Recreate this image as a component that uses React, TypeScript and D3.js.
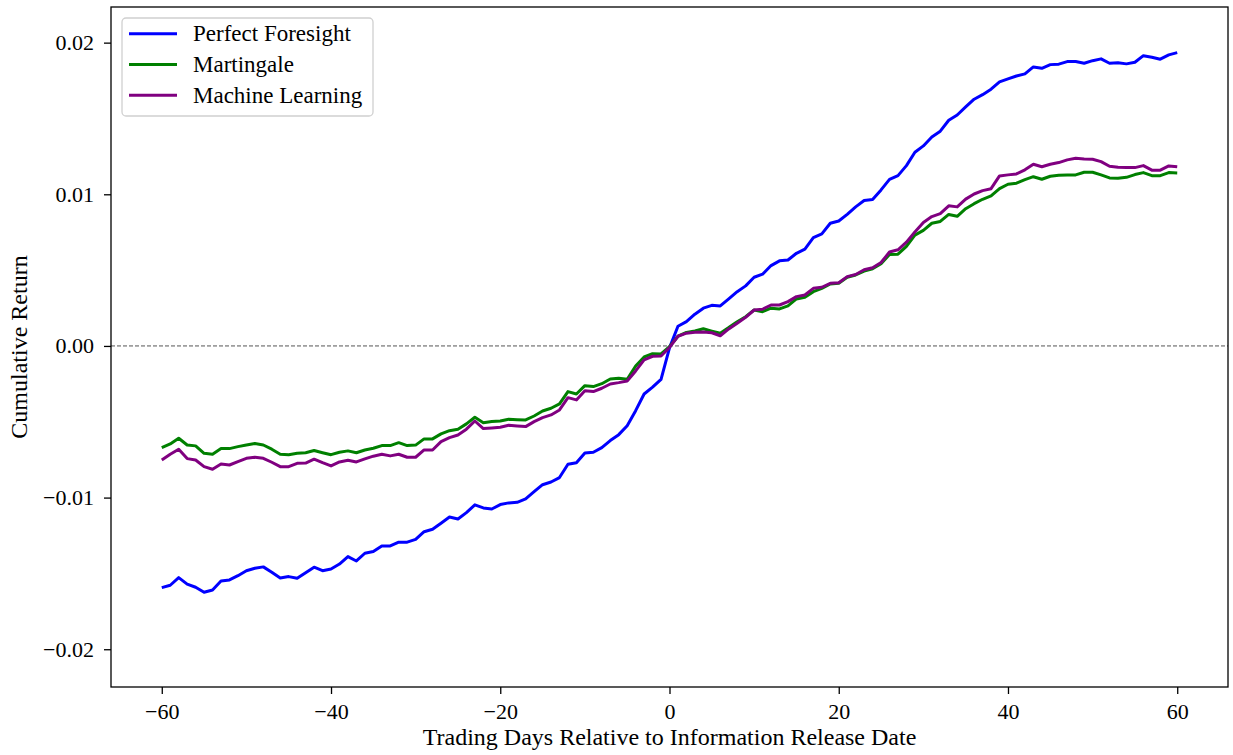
import React, { useRef, useEffect } from 'react';
import * as d3 from 'd3';

// trading days relative to release date
const days = d3.range(-60, 61);

const perfectForesight = [
  -0.01594, -0.01578, -0.01528, -0.01571, -0.01591, -0.01624, -0.01609, -0.0155, -0.01543, -0.01515,
  -0.01482, -0.01466, -0.01457, -0.01492, -0.0153, -0.01521, -0.01532, -0.01495, -0.01459, -0.01482,
  -0.01471, -0.01438, -0.01389, -0.01418, -0.01367, -0.01356, -0.01319, -0.01319, -0.01294, -0.01294,
  -0.01276, -0.01225, -0.01209, -0.01169, -0.01128, -0.01141, -0.01099, -0.01048, -0.01068, -0.01075,
  -0.01046, -0.01035, -0.01031, -0.01009, -0.00961, -0.00915, -0.00897, -0.00868, -0.0078, -0.0077,
  -0.00706, -0.00701, -0.00671, -0.00624, -0.00585, -0.00526, -0.00427, -0.00317, -0.00272, -0.0022,
  -0.00013, 0.0013, 0.0016, 0.00209, 0.00249, 0.00268, 0.00264, 0.0031, 0.00358, 0.00396,
  0.00453, 0.00473, 0.0053, 0.00561, 0.00567, 0.00611, 0.00638, 0.00714, 0.00739, 0.00809,
  0.00824, 0.00868, 0.00917, 0.00959, 0.00966, 0.01029, 0.01098, 0.01123, 0.01189, 0.01277,
  0.01319, 0.01378, 0.01416, 0.01488, 0.01523, 0.01576, 0.01627, 0.01657, 0.01693, 0.01741,
  0.01761, 0.0178, 0.01794, 0.0184, 0.01831, 0.01855, 0.01858, 0.01875, 0.01875, 0.01864,
  0.01881, 0.01893, 0.01864, 0.01868, 0.0186, 0.01871, 0.01914, 0.01904, 0.01891, 0.01919,
  0.01934,
];

const martingale = [
  -0.00671, -0.00646, -0.00609, -0.00653, -0.00659, -0.00708, -0.00714, -0.00677, -0.00677, -0.00664,
  -0.00653, -0.00644, -0.00653, -0.00681, -0.00714, -0.00717, -0.00708, -0.00704, -0.0069, -0.00704,
  -0.00717, -0.00701, -0.00692, -0.00704, -0.00686, -0.00675, -0.00657, -0.00657, -0.00638, -0.00657,
  -0.00654, -0.00613, -0.00613, -0.0058, -0.00559, -0.00549, -0.00514, -0.0047, -0.00506, -0.00499,
  -0.00495, -0.00483, -0.00486, -0.00488, -0.00462, -0.00429, -0.00411, -0.00382, -0.00301, -0.00317,
  -0.00262, -0.00268, -0.00249, -0.00218, -0.00213, -0.0022, -0.00132, -0.00073, -0.00051, -0.00053,
  -0.00005, 0.00064, 0.00089, 0.00099, 0.00113, 0.00098, 0.00084, 0.00121, 0.0016, 0.00193,
  0.00237, 0.00226, 0.00249, 0.00244, 0.00264, 0.0031, 0.00321, 0.00358, 0.0038, 0.00409,
  0.00413, 0.00453, 0.00468, 0.00493, 0.00509, 0.00542, 0.00603, 0.00605, 0.00657, 0.00731,
  0.00762, 0.00809, 0.00821, 0.00867, 0.00855, 0.00905, 0.00938, 0.00967, 0.00989, 0.01037,
  0.01066, 0.01073, 0.01097, 0.01116, 0.01099, 0.01119, 0.01126, 0.01128, 0.01128, 0.01145,
  0.01145, 0.01128, 0.01108, 0.01106, 0.01112, 0.0113, 0.01143, 0.01123, 0.01123, 0.01143,
  0.01141,
];

const machineLearning = [
  -0.00752, -0.00714, -0.00681, -0.00743, -0.00752, -0.00796, -0.00813, -0.00778, -0.00785, -0.00763,
  -0.00741, -0.00734, -0.00741, -0.00767, -0.00796, -0.00796, -0.00774, -0.00772, -0.00747, -0.0077,
  -0.00791, -0.00765, -0.00754, -0.00765, -0.00745, -0.00727, -0.00714, -0.00725, -0.00714, -0.00734,
  -0.00734, -0.00686, -0.00686, -0.00631, -0.00605, -0.00587, -0.00549, -0.00495, -0.00545, -0.00541,
  -0.00536, -0.00523, -0.00528, -0.00532, -0.00499, -0.00473, -0.00455, -0.00422, -0.00341, -0.00356,
  -0.00295, -0.00301, -0.00279, -0.00251, -0.00242, -0.00231, -0.00165, -0.00092, -0.00068, -0.00066,
  -0.0001, 0.00064, 0.00084, 0.0009, 0.00092, 0.00087, 0.00067, 0.00112, 0.0015, 0.00189,
  0.00237, 0.00242, 0.0027, 0.0027, 0.00292, 0.00325, 0.00336, 0.0038, 0.00387, 0.00413,
  0.00417, 0.00457, 0.00471, 0.00502, 0.00516, 0.0055, 0.00619, 0.00634, 0.00684, 0.00752,
  0.00814, 0.00853, 0.00872, 0.00924, 0.00917, 0.00968, 0.01002, 0.01024, 0.01037, 0.01121,
  0.01128, 0.01134, 0.01161, 0.01198, 0.01182, 0.01198, 0.01209, 0.01227, 0.01238, 0.01233,
  0.01231, 0.01215, 0.01185, 0.01178, 0.01176, 0.01176, 0.01189, 0.01159, 0.01159, 0.01187,
  0.01182,
];

const seriesNames = ['Perfect Foresight', 'Martingale', 'Machine Learning'];
const seriesColors = ['blue', 'green', 'purple'];
const xTicks = [-60, -40, -20, 0, 20, 40, 60];
const yTicks = [-0.02, -0.01, 0, 0.01, 0.02];
const xLabel = 'Trading Days Relative to Information Release Date';
const yLabel = 'Cumulative Return';

export default function App() {
  const svgRef = useRef(null);

  useEffect(() => {
    document.body.style.margin = '0';
    const w = 1233;
    const h = 755;
    const m = { left: 111, right: 1228, top: 7, bottom: 687 };
    const font = '"Liberation Serif", "Times New Roman", serif';

    const svg = d3.select(svgRef.current);
    svg.selectAll('*').remove();
    svg.attr('width', w).attr('height', h).style('display', 'block');
    svg.append('rect').attr('width', w).attr('height', h).attr('fill', 'white');

    // scales
    const x = d3.scaleLinear().domain([-66, 66]).range([m.left, m.right]);
    const y = d3.scaleLinear().domain([-0.02249, 0.02235]).range([m.bottom, m.top]);

    // zero line
    svg
      .append('line')
      .attr('x1', m.left)
      .attr('x2', m.right)
      .attr('y1', y(0))
      .attr('y2', y(0))
      .attr('stroke', '#555')
      .attr('stroke-width', 1)
      .attr('stroke-dasharray', '4,2');

    // lines
    const line = d3
      .line()
      .x((d, i) => x(days[i]))
      .y((d) => y(d));
    const data = [perfectForesight, martingale, machineLearning];
    svg
      .append('g')
      .selectAll('path')
      .data(data)
      .join('path')
      .attr('d', (d) => line(d))
      .attr('fill', 'none')
      .attr('stroke', (d, i) => seriesColors[i])
      .attr('stroke-width', 3)
      .attr('stroke-linejoin', 'round');

    // axes
    const fmtY = (v) => d3.format('.2f')(v).replace('-', '\u2212');
    const fmtX = (v) => String(v).replace('-', '\u2212');
    const xAxis = d3.axisBottom(x).tickValues(xTicks).tickFormat(fmtX).tickSize(7).tickPadding(9);
    const yAxis = d3.axisLeft(y).tickValues(yTicks).tickFormat(fmtY).tickSize(7).tickPadding(10);

    const gx = svg.append('g').attr('transform', `translate(0,${m.bottom})`).call(xAxis);
    const gy = svg.append('g').attr('transform', `translate(${m.left},0)`).call(yAxis);
    [gx, gy].forEach((g) => {
      g.select('.domain').remove();
      g.selectAll('line').attr('stroke', 'black').attr('stroke-width', 1.3);
      g.selectAll('text').attr('font-family', font).attr('font-size', 22).attr('fill', 'black');
    });

    // frame
    svg
      .append('rect')
      .attr('x', m.left)
      .attr('y', m.top)
      .attr('width', m.right - m.left)
      .attr('height', m.bottom - m.top)
      .attr('fill', 'none')
      .attr('stroke', 'black')
      .attr('stroke-width', 1.3);

    // axis labels
    svg
      .append('text')
      .attr('x', (m.left + m.right) / 2)
      .attr('y', 745)
      .attr('text-anchor', 'middle')
      .attr('font-family', font)
      .attr('font-size', 24)
      .text(xLabel);
    svg
      .append('text')
      .attr('transform', `translate(27,${(m.top + m.bottom) / 2}) rotate(-90)`)
      .attr('text-anchor', 'middle')
      .attr('font-family', font)
      .attr('font-size', 24)
      .text(yLabel);

    // legend
    const lg = svg.append('g').attr('transform', 'translate(122,18)');
    lg.append('rect')
      .attr('width', 251)
      .attr('height', 98)
      .attr('rx', 4)
      .attr('fill', 'white')
      .attr('fill-opacity', 0.8)
      .attr('stroke', '#d0d0d0')
      .attr('stroke-width', 1.3);
    seriesNames.forEach((name, i) => {
      const yy = 15.7 + i * 30.8;
      lg.append('line')
        .attr('x1', 7)
        .attr('x2', 55)
        .attr('y1', yy)
        .attr('y2', yy)
        .attr('stroke', seriesColors[i])
        .attr('stroke-width', 3);
      lg.append('text')
        .attr('x', 71)
        .attr('y', yy + 7.5)
        .attr('font-family', font)
        .attr('font-size', 23)
        .text(name);
    });
  }, []);

  return <svg ref={svgRef}></svg>;
}
